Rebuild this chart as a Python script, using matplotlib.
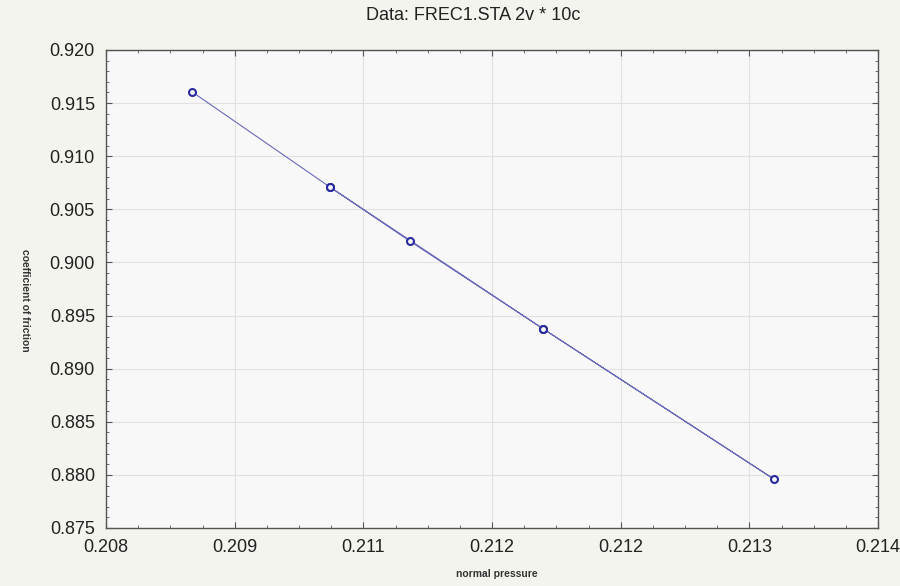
import matplotlib
matplotlib.use("Agg")
import matplotlib.pyplot as plt
from matplotlib.ticker import AutoMinorLocator

plt.rcParams['font.family'] = ['Liberation Sans', 'DejaVu Sans']

# cases in order, the line follows the case order (goes out to the last point and back)
pressure = [0.20867, 0.20974, 0.21036, 0.21140, 0.21319, 0.21140, 0.20974]
friction = [0.91605, 0.90710, 0.90202, 0.89373, 0.87961, 0.89373, 0.90710]

x_ticks = [0.208, 0.209, 0.210, 0.211, 0.212, 0.213, 0.214]
x_labels = ['0.208', '0.209', '0.211', '0.212', '0.212', '0.213', '0.214']
y_ticks = [0.875, 0.880, 0.885, 0.890, 0.895, 0.900, 0.905, 0.910, 0.915, 0.920]

fig = plt.figure(figsize=(9, 5.86), dpi=100, facecolor='#f4f4ee')
ax = fig.add_axes([106/900, 1-528/586, 772/900, 478/586])
ax.set_facecolor('#f8f8f8')

ax.plot(pressure, friction, color='#6a6ab8', linewidth=0.8, zorder=3)
ax.plot(pressure, friction, linestyle='none', marker='o', markersize=5,
        markerfacecolor='#f8f8f8', markeredgecolor='#2a2aa0', markeredgewidth=1.5, zorder=4)

ax.set_xlim(0.208, 0.214)
ax.set_ylim(0.875, 0.920)
ax.set_xticks(x_ticks)
ax.set_xticklabels(x_labels)
ax.set_yticks(y_ticks)
ax.set_yticklabels(['%.3f' % v for v in y_ticks])
ax.xaxis.set_minor_locator(AutoMinorLocator(4))
ax.yaxis.set_minor_locator(AutoMinorLocator(5))

ax.tick_params(which='both', direction='in', top=True, right=True, color='#555555')
ax.tick_params(which='major', length=4, width=0.8, labelsize=13, labelcolor='#222222', pad=8)
ax.tick_params(which='minor', length=2.5, width=0.6)
for s in ax.spines.values():
    s.set_color('#555555')
    s.set_linewidth(1.0)

ax.grid(True, which='major', color='#e2e2e2', linewidth=0.8)
ax.set_axisbelow(True)

fig.text(473/900, 1-16/586, 'Data: FREC1.STA 2v * 10c', ha='center', va='center',
         fontsize=13, color='#222222')
fig.text(497/900, 1-574/586, 'normal pressure', ha='center', va='center',
         fontsize=7.5, fontweight='bold', color='#333333')
fig.text(25/900, 1-300/586, 'coefficient of friction', ha='center', va='center',
         rotation=270, fontsize=7.5, fontweight='bold', color='#333333')

fig.savefig('out.png', dpi=100, facecolor=fig.get_facecolor())
